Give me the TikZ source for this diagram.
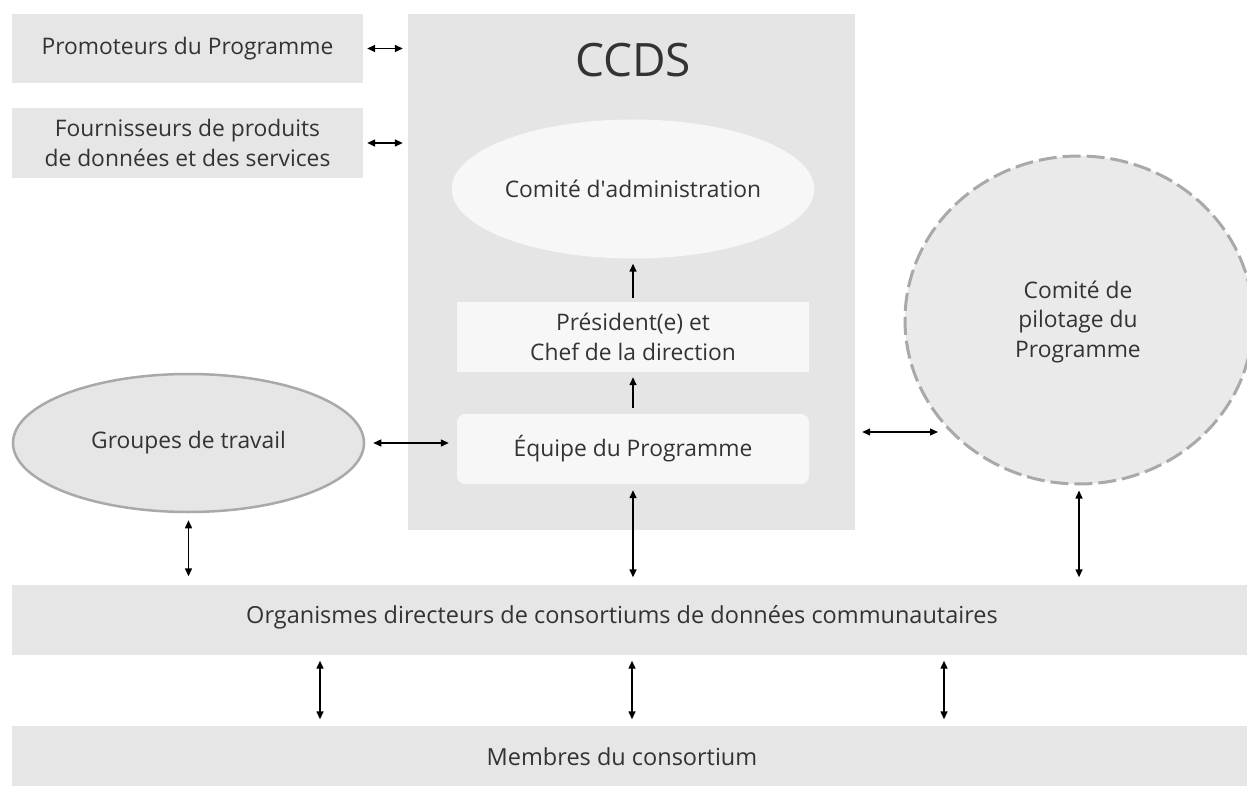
\documentclass[tikz,border=0pt]{standalone}
\usepackage{fontspec}
\setmainfont{Open Sans}
\usetikzlibrary{arrows.meta,shapes.geometric,calc}
\definecolor{boxgray}{HTML}{E6E6E6}
\definecolor{ccdsgray}{HTML}{E5E5E5}
\definecolor{inner}{HTML}{F7F7F7}
\definecolor{pilot}{HTML}{EAEAEA}
\definecolor{edgegray}{HTML}{A9A9A9}
\definecolor{txt}{HTML}{333333}
\tikzset{
  lbl/.style={text=txt, font=\fontsize{22.8}{29.5}\selectfont, align=center},
  graybox/.style={lbl, rectangle, fill=boxgray, inner sep=0pt},
  innerbox/.style={lbl, rectangle, fill=inner, inner sep=0pt, minimum width=352, minimum height=70},
  conn/.style={line width=1.4pt, {Triangle[length=8pt,width=7pt]}-{Triangle[length=8pt,width=7pt]}},
  upconn/.style={line width=1.4pt, -{Triangle[length=8pt,width=7pt]}}
}
\begin{document}
\begin{tikzpicture}[x=1pt,y=-1pt]
\useasboundingbox (0,0) rectangle (1247,786);
\fill[white] (0,0) rectangle (1247,786);
% left boxes
\node[graybox, minimum width=351, minimum height=69] (prom) at (187.5,48.5) {Promoteurs du Programme};
\node[graybox, minimum width=351, minimum height=70] (four) at (187.5,143) {Fournisseurs de produits\\de données et des services};
% CCDS container
\node[rectangle, fill=ccdsgray, minimum width=447, minimum height=516, inner sep=0pt] (ccds) at (631.5,272) {};
\node[lbl, font=\fontsize{46}{54}\selectfont] (ccdstitle) at (633,60) {CCDS};
\node[lbl, ellipse, fill=inner, minimum width=353, minimum height=139, inner sep=0pt] (admin) at (633,189) {Comité d\textquotesingle administration};
\node[innerbox] (pres) at (633,337) {Président(e) et\\Chef de la direction};
\node[innerbox, rounded corners=8pt] (equipe) at (633,449) {Équipe du Programme};
% groupes
\node[lbl, ellipse, fill=boxgray, draw=edgegray, line width=2.5pt, minimum width=351, minimum height=138, inner sep=0pt] (groupes) at (188.5,443) {Groupes de travail};
% pilotage
\node[lbl, ellipse, fill=pilot, draw=edgegray, line width=3pt, dash pattern=on 18pt off 6pt, minimum width=348, minimum height=328, inner sep=0pt] (pilot) at (1079,320) {};
\node[lbl] (pilottxt) at (1078,322) {Comité de\\pilotage du\\Programme};
% bottom bars
\node[graybox, minimum width=1235, minimum height=70] (org) at (629.5,619.5) {};
\node[lbl, font=\fontsize{23.5}{29.5}\selectfont] (orgtxt) at (622,617) {Organismes directeurs de consortiums de données communautaires};
\node[graybox, minimum width=1235, minimum height=60] (mem) at (629.5,755.5) {};
\node[lbl, font=\fontsize{23.5}{29.5}\selectfont] (memtxt) at (622,757) {Membres du consortium};
% connectors
\draw[conn, shorten <=4pt, shorten >=5pt] (prom.east) -- (ccds.west |- prom.east);
\draw[conn, shorten <=4pt, shorten >=5pt] (four.east) -- (ccds.west |- four.east);
\draw[upconn, shorten <=4pt, shorten >=5pt] (pres.north) -- (admin.south);
\draw[upconn, shorten <=6pt, shorten >=5pt] (equipe.north) -- (pres.south);
\draw[conn, shorten <=8pt, shorten >=8pt] (groupes.east) -- (equipe.west |- groupes.east);
\coordinate (cpl) at ($(ccds.east |- 0,432)+(7,0)$);
\coordinate (cpr) at (938,432);
\draw[conn] (cpl) -- (cpr);
\draw[conn, shorten <=7pt, shorten >=8pt] (groupes.south) -- (org.north -| groupes.south);
\draw[conn, shorten <=6pt, shorten >=7pt] (equipe.south) -- (org.north -| equipe.south);
\draw[conn, shorten <=5pt, shorten >=7pt] (pilot.south) -- (org.north -| pilot.south);
\foreach \xx/\nm in {320/a,632/b,944/c}{
  \coordinate (top\nm) at (org.south -| \xx,0);
  \coordinate (bot\nm) at (mem.north -| \xx,0);
  \draw[conn, shorten <=6pt, shorten >=6pt] (top\nm) -- (bot\nm);
}
\end{tikzpicture}
\end{document}
